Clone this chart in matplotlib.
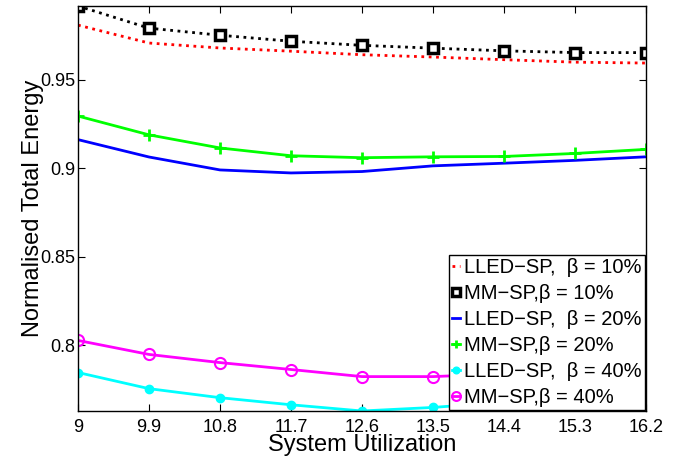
#!/usr/bin/env python3
# Normalised total energy vs system utilization
import matplotlib
matplotlib.use("Agg")
import matplotlib.pyplot as plt

utilization = [9, 9.9, 10.8, 11.7, 12.6, 13.5, 14.4, 15.3, 16.2]
tick_labels = ["9", "9.9", "10.8", "11.7", "12.6", "13.5", "14.4", "15.3", "16.2"]

lled_10 = [0.9807, 0.9706, 0.9678, 0.9660, 0.9640, 0.9627, 0.9612, 0.9598, 0.9593]
mm_10 = [0.9915, 0.9790, 0.9750, 0.9716, 0.9693, 0.9677, 0.9662, 0.9652, 0.9652]
lled_20 = [0.9161, 0.9063, 0.8990, 0.8973, 0.8981, 0.9013, 0.9028, 0.9044, 0.9064]
mm_20 = [0.9294, 0.9188, 0.9114, 0.9070, 0.9059, 0.9064, 0.9066, 0.9083, 0.9106]
lled_40 = [0.7847, 0.7756, 0.7705, 0.7665, 0.7630, 0.7650, 0.7680, 0.7750, 0.7830]
mm_40 = [0.8028, 0.7949, 0.7903, 0.7864, 0.7824, 0.7824, 0.7840, 0.7890, 0.7977]

plt.rcParams["font.family"] = ["Liberation Sans", "DejaVu Sans"]

fig = plt.figure(figsize=(6.86, 4.57), dpi=100)
ax = fig.add_axes([0.1137, 0.1007, 0.8280, 0.8862])

ax.plot(utilization, lled_10, color="red", linestyle=":", linewidth=2,
        label="LLED\u2212SP,  \u03b2 = 10%")
ax.plot(utilization, mm_10, color="black", linestyle=":", linewidth=2,
        marker="s", markersize=7, markerfacecolor="white", markeredgewidth=2.5,
        label="MM\u2212SP,\u03b2 = 10%")
ax.plot(utilization, lled_20, color="blue", linewidth=2,
        label="LLED\u2212SP,  \u03b2 = 20%")
ax.plot(utilization, mm_20, color="#00ff00", linewidth=2,
        marker="+", markersize=8, markeredgewidth=2,
        label="MM\u2212SP,\u03b2 = 20%")
ax.plot(utilization, lled_40, color="cyan", linewidth=2,
        marker="o", markersize=6, markerfacecolor="cyan",
        label="LLED\u2212SP,  \u03b2 = 40%")
ax.plot(utilization, mm_40, color="magenta", linewidth=2,
        marker="o", markersize=8, markerfacecolor="none", markeredgewidth=1.5,
        label="MM\u2212SP,\u03b2 = 40%")

ax.set_xlim(9, 16.2)
ax.set_ylim(0.763, 0.9915)
ax.set_xticks(utilization)
ax.set_xticklabels(tick_labels)
ax.set_yticks([0.8, 0.85, 0.9, 0.95])
ax.set_yticklabels(["0.8", "0.85", "0.9", "0.95"])
ax.tick_params(direction="in", top=True, right=True, labelsize=13, length=5)
ax.tick_params(axis="x", pad=6)
ax.tick_params(axis="y", pad=2)
for s in ax.spines.values():
    s.set_linewidth(1)

ax.set_xlabel("System Utilization", fontsize=17, labelpad=-2)
ax.set_ylabel("Normalised Total Energy", fontsize=17, labelpad=-3)

leg = ax.legend(loc="lower right", fontsize=14.5, handlelength=0.4, handletextpad=0.2,
                labelspacing=0.35, borderpad=0.15, borderaxespad=0.05,
                fancybox=False, framealpha=1, markerscale=0.8)
leg.get_frame().set_edgecolor("black")
leg.get_frame().set_linewidth(1)

fig.savefig("out.png", dpi=100)
